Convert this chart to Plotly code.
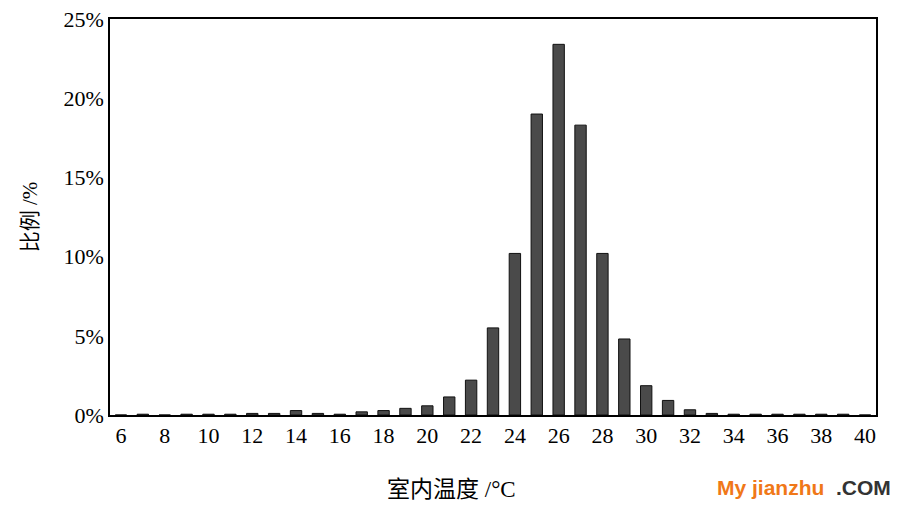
import plotly.graph_objects as go

temps = list(range(6, 41))
values = [0.0, 0.05, 0.0, 0.05, 0.05, 0.05, 0.1, 0.1, 0.28, 0.1, 0.05, 0.2, 0.28, 0.42, 0.58,
          1.14, 2.2, 5.5, 10.2, 19.0, 23.4, 18.3, 10.2, 4.8, 1.85, 0.92, 0.33, 0.1,
          0.05, 0.05, 0.05, 0.05, 0.05, 0.05, 0.0]
tick_vals = list(range(6, 41, 2))
y_ticks = [0, 5, 10, 15, 20, 25]
y_labels = ["0%", "5%", "10%", "15%", "20%", "25%"]

font_lat = "Liberation Serif, Times New Roman, Noto Sans CJK SC, serif"

fig = go.Figure()
fig.add_trace(go.Bar(
    x=temps, y=values, width=0.52,
    marker=dict(color="#4a4a4a", line=dict(color="#111111", width=1)),
))

# page body has an 8px margin; margins compensate so the plot lands at 110..876 x 19..415
fig.update_layout(
    width=904, height=509,
    margin=dict(l=102, r=36, t=11, b=102, autoexpand=False),
    paper_bgcolor="white", plot_bgcolor="white",
    showlegend=False,
    font=dict(family=font_lat, size=22, color="black"),
    xaxis=dict(range=[5.5, 40.5], tickvals=tick_vals, showgrid=False, zeroline=False,
               showline=True, linecolor="black", linewidth=1.5, mirror=True, ticks="",
               automargin=False, ticklabeloverflow="allow",
               tickfont=dict(family=font_lat, size=22)),
    yaxis=dict(range=[0, 25], tickvals=y_ticks, ticktext=y_labels, showgrid=False,
               zeroline=False, showline=True, linecolor="black", linewidth=1.5, mirror=True,
               automargin=False, ticklabeloverflow="allow", ticks="",
               tickfont=dict(family=font_lat, size=22)),
    annotations=[
        dict(text="室内温度 /°C", xref="paper", yref="paper", x=0.446, y=-0.187,
             showarrow=False, xanchor="center", yanchor="middle",
             font=dict(family=font_lat, size=23)),
        dict(text="比例 /%", xref="paper", yref="paper", x=-0.104, y=0.5,
             showarrow=False, xanchor="center", yanchor="middle", textangle=-90,
             font=dict(family=font_lat, size=21)),
        dict(text="<b><span style='color:#f07818'>My jianzhu</span>  <span style='color:#333333'>.COM</span></b>",
             xref="paper", yref="paper", x=1.022, y=-0.182, xanchor="right", yanchor="middle",
             showarrow=False, font=dict(family="Liberation Sans, Arial, sans-serif", size=21)),
    ],
)

fig.write_html("out.html")
